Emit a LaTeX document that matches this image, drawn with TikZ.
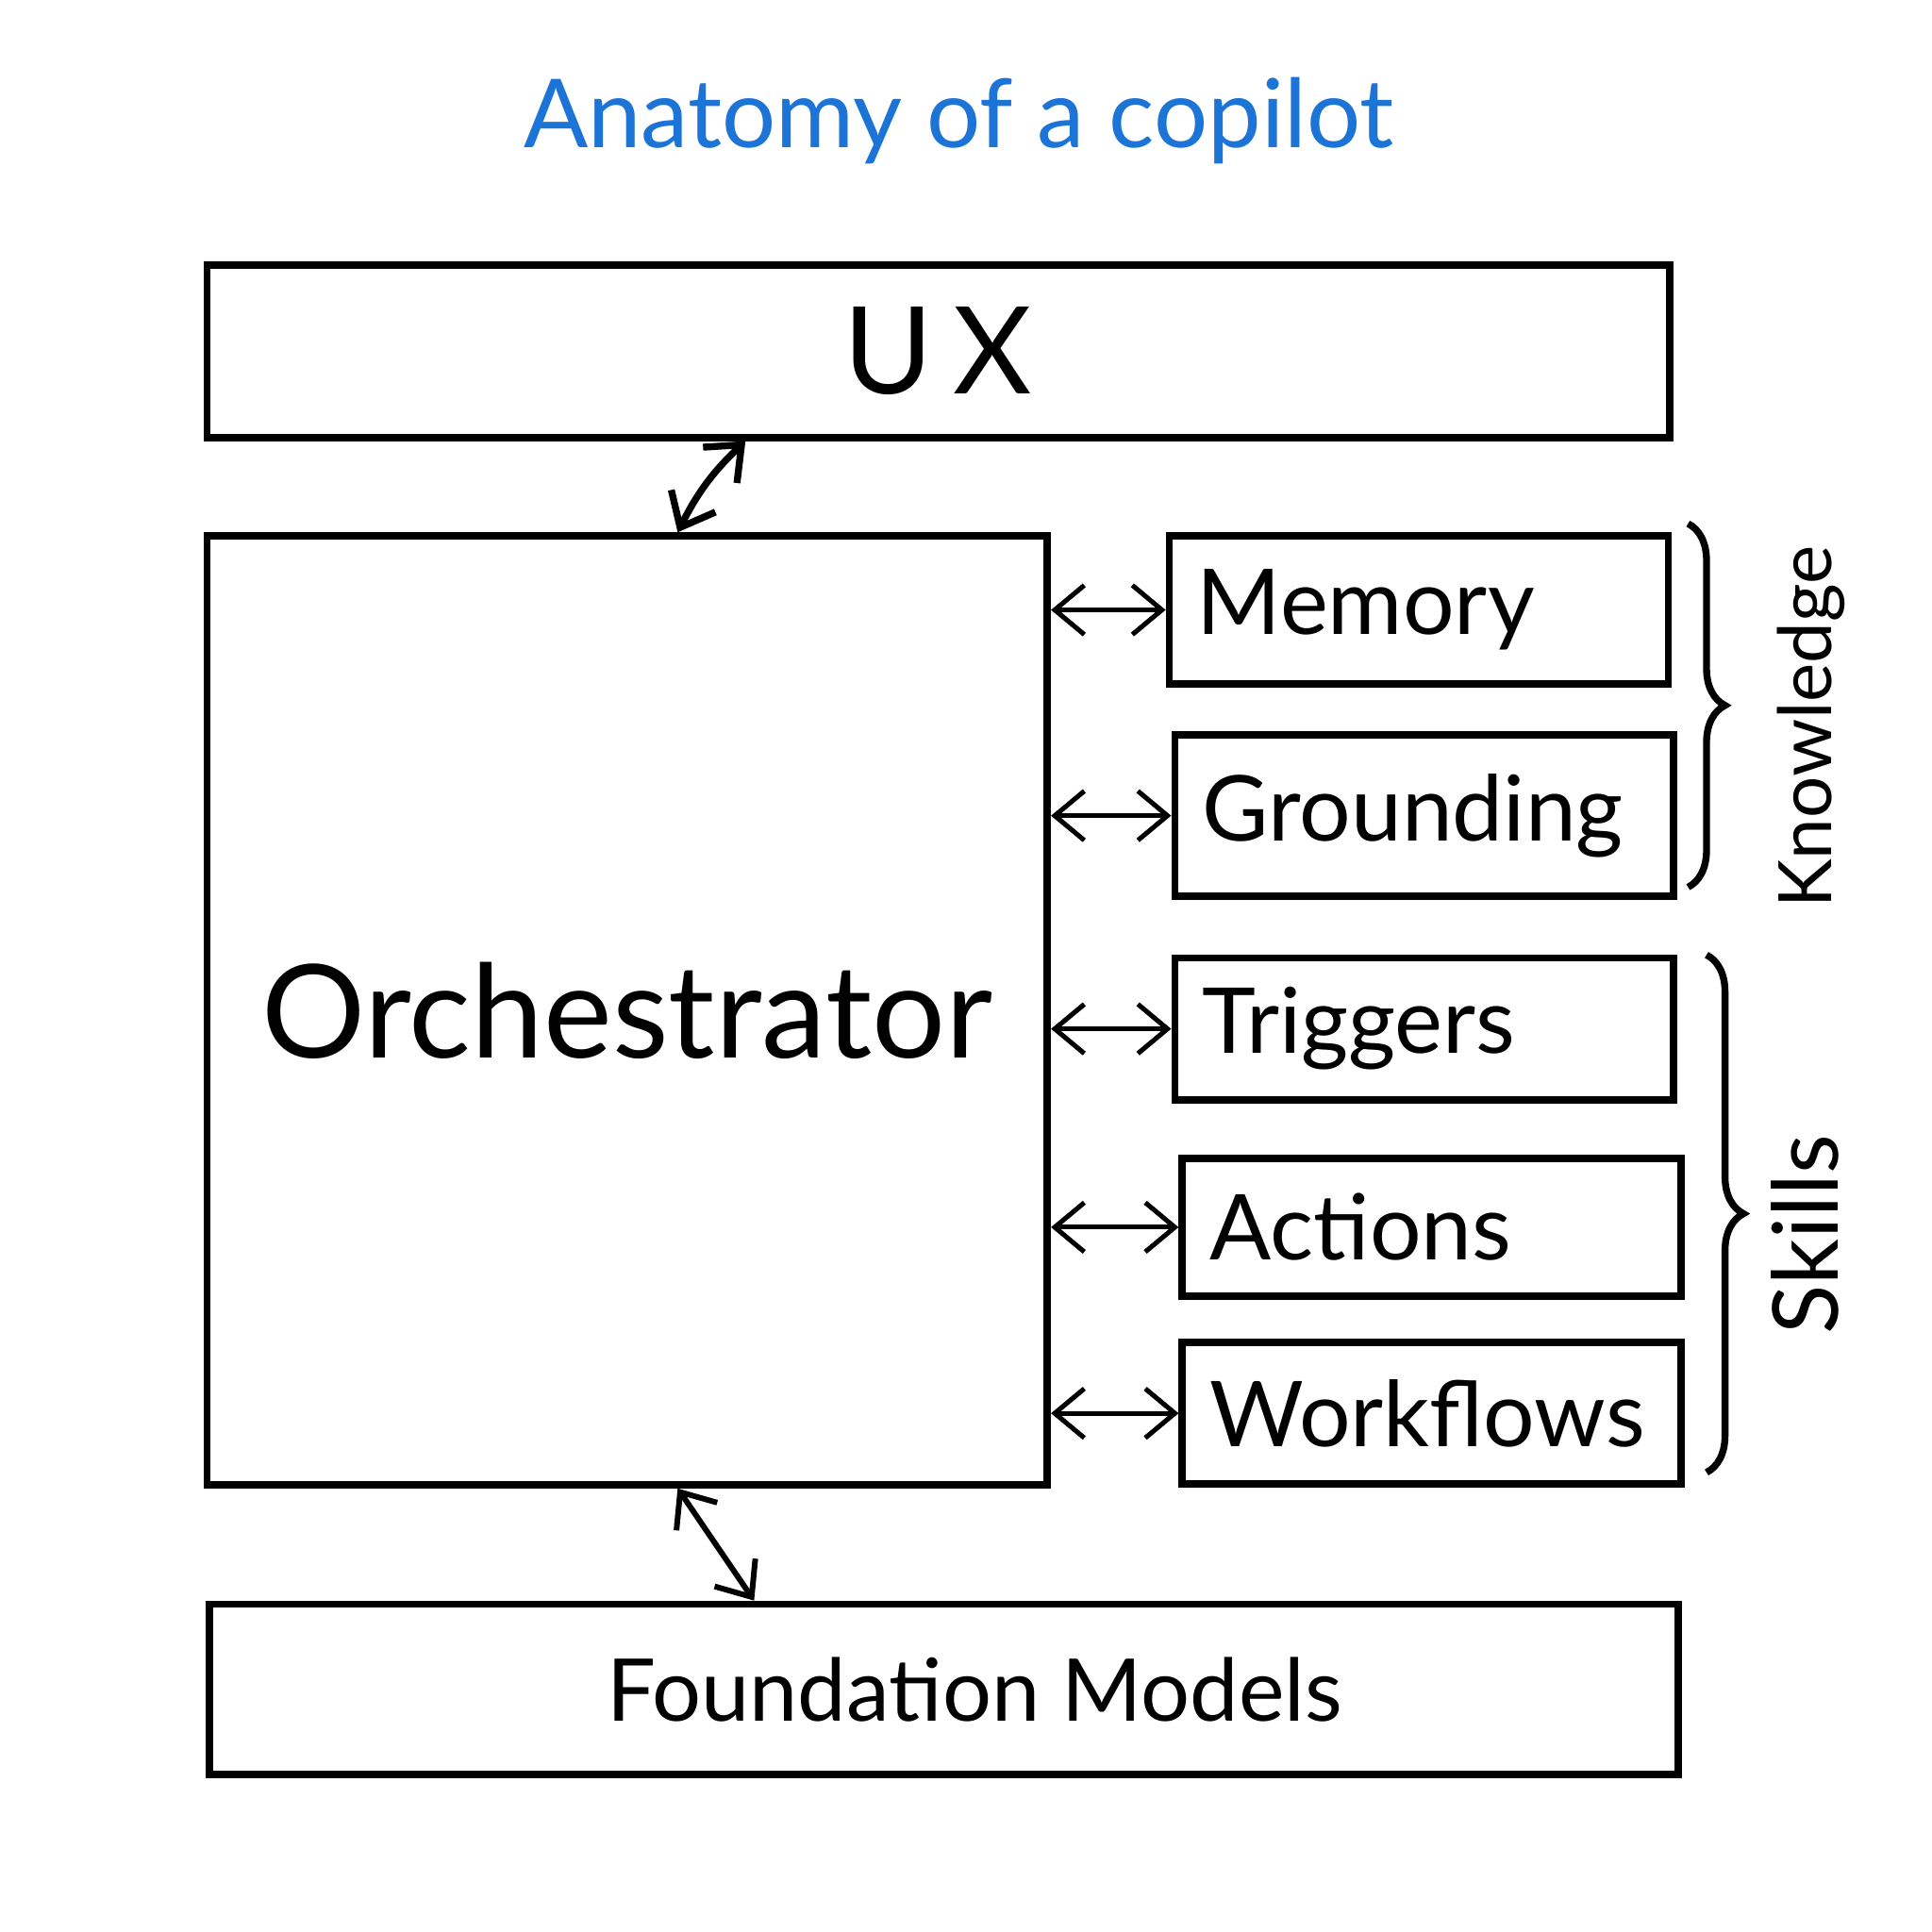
\documentclass[tikz,border=0pt]{standalone}
\usepackage{fontspec}
\setmainfont{Lato}
\usetikzlibrary{arrows.meta,decorations.pathreplacing}
\definecolor{titleblue}{RGB}{28,116,214}
\begin{document}
\begin{tikzpicture}[>={Straight Barb[length=2.4mm,width=4mm]}, line width=1.7pt,
 box/.style={draw, rectangle, inner sep=0pt},
 part/.style={box, minimum width=4.05cm, text width=3.6cm, inner xsep=0.22cm, align=left, font=\fontsize{21}{25}\selectfont},
 link/.style={<->, line width=1.1pt},
 curly/.style={decorate, decoration={brace, amplitude=0.3cm}, line width=1.6pt},
 side/.style={rotate=90, font=\fontsize{17}{20}\selectfont}]
 \useasboundingbox (0,0) rectangle (15.68,-15.68);
 \node[text=titleblue, font=\fontsize{22}{26}\selectfont] (title) at (7.78,-0.98) {Anatomy of a copilot};
 % main layers
 \node[box, minimum width=11.87cm, minimum height=1.40cm, font=\fontsize{28}{34}\selectfont] (ux) at (7.615,-2.85) {U\,X};
 \node[box, minimum width=6.82cm, minimum height=7.70cm, font=\fontsize{30}{36}\selectfont] (orch) at (5.09,-8.20) {Orchestrator};
 \node[box, minimum width=11.92cm, minimum height=1.38cm, font=\fontsize{20}{24}\selectfont] (fm) at (7.66,-13.71) {\hspace{0.5cm}Foundation Models};
 % knowledge and skills
 \node[part, minimum height=1.20cm] (mem) at (11.515,-4.95) {Memory};
 \node[part, minimum height=1.31cm] (grd) at (11.56,-6.62) {Grounding};
 \node[part, minimum height=1.15cm] (trg) at (11.56,-8.35) {Triggers};
 \node[part, minimum height=1.12cm] (act) at (11.62,-9.96) {Actions};
 \node[part, minimum height=1.15cm] (wfl) at (11.62,-11.47) {Workflows};
 \foreach \p in {mem,grd,trg,act,wfl}
  \draw[link] (orch.east |- \p) -- (\p.west);
 \draw[link, line width=1.6pt] ([xshift=0.41cm]orch.north) to[bend left=10] ([xshift=-1.565cm]ux.south);
 \draw[link, line width=1.3pt] ([xshift=0.41cm]orch.south) -- ([xshift=-1.54cm]fm.north);
 % braces
 \coordinate (kntop) at (13.70,-4.25);
 \coordinate (knbot) at (13.70,-7.20);
 \coordinate (sktop) at (13.85,-7.75);
 \coordinate (skbot) at (13.85,-11.95);
 \draw[curly] (kntop) -- (knbot);
 \draw[curly] (sktop) -- (skbot);
 \node[side] (know) at (14.70,-5.90) {Knowledge};
 \node[side, font=\fontsize{21}{25}\selectfont] (skill) at (14.65,-10.02) {Skills};
\end{tikzpicture}
\end{document}
